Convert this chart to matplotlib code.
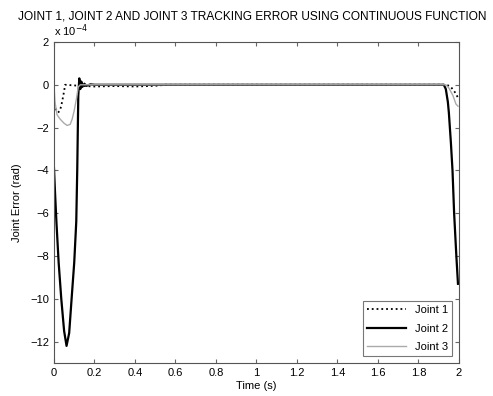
import numpy as np
import matplotlib.pyplot as plt

plt.rcParams['font.family'] = ['Liberation Sans', 'DejaVu Sans']

# tracking error samples, in units of 1e-4 rad
t1 = [0, 0.01, 0.02, 0.03, 0.04, 0.05, 0.055, 0.13, 0.2, 0.3, 0.4, 0.5, 0.55,
      1.94, 1.96, 1.98, 1.995]
e1 = [-0.9, -1.15, -1.3, -1.2, -0.8, -0.3, 0, -0.05, -0.08, -0.06, -0.08, -0.05, 0,
      0, -0.1, -0.35, -0.6]

t2 = [0, 0.005, 0.012, 0.023, 0.036, 0.05, 0.062, 0.075, 0.087, 0.10, 0.11,
      0.115, 0.12, 0.125, 0.13, 0.135, 0.14, 0.15, 0.16, 0.18, 0.2,
      1.925, 1.935, 1.945, 1.95, 1.96, 1.968, 1.976, 1.987, 1.995]
e2 = [-3.9, -5.0, -6.4, -8.3, -10.0, -11.5, -12.2, -11.6, -10.0, -8.3, -6.4,
      -3.9, -0.5, 0.3, -0.2, 0.15, -0.1, 0.05, -0.05, 0.02, 0,
      0, -0.2, -0.8, -1.3, -2.7, -4.0, -6.0, -8.0, -9.3]

t3 = [0, 0.005, 0.015, 0.03, 0.05, 0.065, 0.08, 0.09, 0.1, 0.11, 0.12, 0.13,
      1.935, 1.95, 1.97, 1.985, 1.995]
e3 = [0, -0.8, -1.4, -1.6, -1.8, -1.9, -1.85, -1.6, -1.2, -0.7, -0.1, 0,
      0, -0.15, -0.5, -0.9, -1.0]

fig = plt.figure(figsize=(4.93, 3.96), dpi=100)
ax = fig.add_axes([0.1095, 0.0833, 0.8215, 0.8107])

ax.plot(t1, e1, color='black', linestyle=':', linewidth=1.3, label='Joint 1')
ax.plot(t2, e2, color='black', linestyle='-', linewidth=1.6, label='Joint 2')
ax.plot(t3, e3, color='#aaaaaa', linestyle='-', linewidth=1.0, label='Joint 3')

ax.set_xlim(0, 2)
ax.set_ylim(-13, 2)
ax.set_xticks(np.arange(0, 2.01, 0.2))
ax.set_xticklabels(['0', '0.2', '0.4', '0.6', '0.8', '1', '1.2', '1.4', '1.6', '1.8', '2'])
ax.set_yticks(np.arange(-12, 2.1, 2))
ax.tick_params(direction='in', top=True, right=True, labelsize=8, length=3,
               color='#666666')
for s in ax.spines.values():
    s.set_color('#555555')
    s.set_linewidth(0.8)

ax.text(0.0, 1.01, r'x 10$^{-4}$', transform=ax.transAxes, fontsize=8,
        ha='left', va='bottom')
ax.set_title('JOINT 1, JOINT 2 AND JOINT 3 TRACKING ERROR USING CONTINUOUS FUNCTION',
             fontsize=8.6, pad=16, x=0.49)
ax.set_xlabel('Time (s)', fontsize=8, labelpad=2)
ax.set_ylabel('Joint Error (rad)', fontsize=8, labelpad=6)

leg = ax.legend(loc='lower right', fontsize=8, frameon=True, fancybox=False,
                handlelength=3.5, labelspacing=0.75, borderaxespad=0.6)
leg.get_frame().set_edgecolor('#555555')
leg.get_frame().set_linewidth(0.8)

fig.savefig('out.png', dpi=100)
